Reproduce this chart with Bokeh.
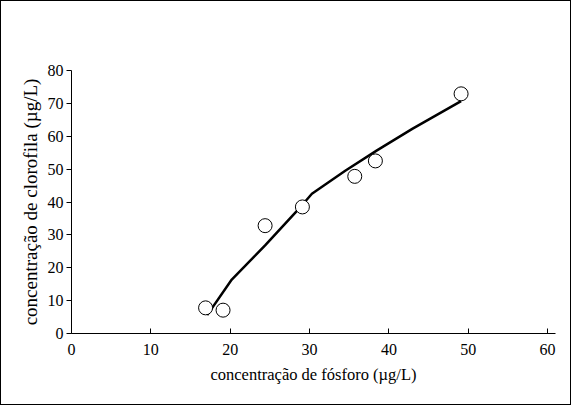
from bokeh.plotting import figure
from bokeh.models import Range1d, FixedTicker
from bokeh.embed import file_html
from bokeh.resources import INLINE

# observed data
fosforo = [16.9, 19.1, 24.4, 29.1, 35.7, 38.3, 49.1]
clorofila = [7.8, 7.1, 32.8, 38.5, 47.8, 52.5, 72.9]

# fitted curve
fit_x = [17.1, 20.2, 24.4, 28.5, 30.3, 34.5, 38.5, 43.0, 49.1]
fit_y = [5.6, 16.4, 26.8, 37.5, 42.5, 49.5, 55.7, 62.3, 70.7]

x_ticks = [0, 10, 20, 30, 40, 50, 60]
y_ticks = [0, 10, 20, 30, 40, 50, 60, 70, 80]

FONT = "Liberation Serif"

p = figure(width=571, height=405, output_backend="svg", toolbar_location=None,
           x_range=Range1d(0, 61), y_range=Range1d(0, 80),
           min_border_left=70, min_border_right=17, min_border_top=69, min_border_bottom=73)
p.styles = {"border": "1px solid black", "box-sizing": "border-box"}
p.outline_line_color = None
p.xgrid.visible = False
p.ygrid.visible = False

p.line(fit_x, fit_y, line_color="black", line_width=2.5)
p.scatter(fosforo, clorofila, marker="circle", size=14, fill_color="white",
          line_color="black", line_width=1)

for ax in (p.xaxis[0], p.yaxis[0]):
    ax.axis_line_color = "black"
    ax.major_tick_line_color = "black"
    ax.minor_tick_line_color = None
    ax.major_label_text_font = FONT
    ax.major_label_text_font_size = "16px"
    ax.major_label_text_color = "black"
    ax.axis_label_text_font = FONT
    ax.axis_label_text_font_style = "normal"
    ax.axis_label_text_color = "black"

p.xaxis[0].axis_label_text_font_size = "16.5px"
p.yaxis[0].axis_label_text_font_size = "19px"
p.xaxis[0].ticker = FixedTicker(ticks=x_ticks)
p.yaxis[0].ticker = FixedTicker(ticks=y_ticks)
p.xaxis[0].major_tick_in = 5
p.xaxis[0].major_tick_out = 0
p.xaxis[0].major_label_standoff = 10
p.yaxis[0].major_tick_in = 0
p.yaxis[0].major_tick_out = 5
p.yaxis[0].major_label_standoff = 3
p.xaxis[0].axis_label = "concentração de fósforo (µg/L)"
p.yaxis[0].axis_label = "concentração de clorofila (µg/L)"
p.xaxis[0].axis_label_standoff = 7
p.yaxis[0].axis_label_standoff = 4

open("out.html", "w").write(file_html(p, INLINE))
